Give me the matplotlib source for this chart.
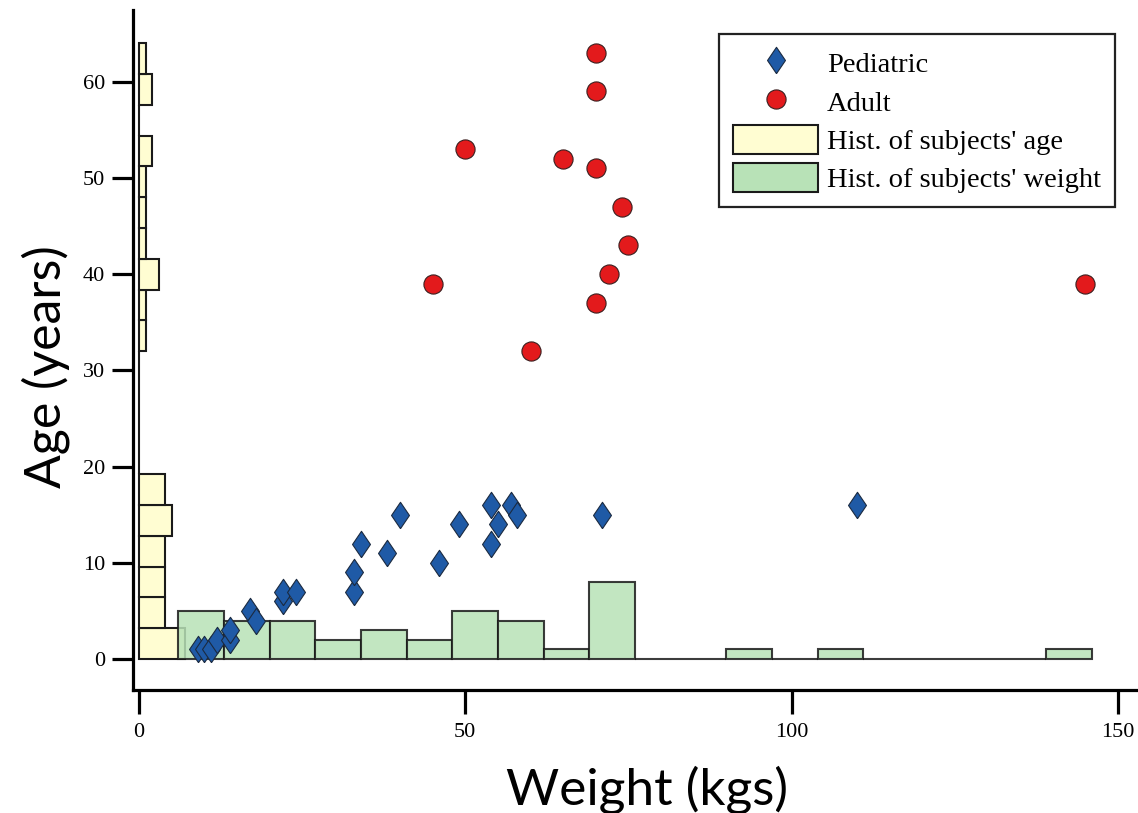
import numpy as np
import matplotlib
matplotlib.use("Agg")
import matplotlib.pyplot as plt
from matplotlib.lines import Line2D
from matplotlib.patches import Patch

# ---------------- data ----------------
ped_weight = [9, 10, 11, 12, 14, 14, 17, 18, 22, 22, 24, 33, 33, 34, 38, 40, 46, 49, 54, 54, 55, 57, 58, 71, 110]
ped_age = [1, 1, 1, 2, 2, 3, 5, 4, 6, 7, 7, 7, 9, 12, 11, 15, 10, 14, 12, 16, 14, 16, 15, 15, 16]

adult_weight = [70, 70, 50, 65, 70, 74, 75, 72, 45, 145, 70, 60]
adult_age = [63, 59, 53, 52, 51, 47, 43, 40, 39, 39, 37, 32]

# age histogram (bins of 3.2 years from 0 to 64)
age_bin_edges = [0.0, 3.2, 6.4, 9.6, 12.8, 16.0, 19.2, 22.4, 25.6, 28.8, 32.0,
                 35.2, 38.4, 41.6, 44.8, 48.0, 51.2, 54.4, 57.6, 60.8, 64.0]
age_counts = [7, 4, 4, 4, 5, 4, 0, 0, 0, 0, 1, 1, 3, 1, 1, 1, 2, 0, 2, 1]

# weight histogram (bins of 7 kg from 6 to 146)
weight_bin_edges = [6, 13, 20, 27, 34, 41, 48, 55, 62, 69, 76, 83, 90, 97, 104,
                    111, 118, 125, 132, 139, 146]
weight_counts = [5, 4, 4, 2, 3, 2, 5, 4, 1, 8, 0, 0, 1, 0, 1, 0, 0, 0, 0, 1]

x_ticks = [0, 50, 100, 150]
y_ticks = [0, 10, 20, 30, 40, 50, 60]

labels = ["Pediatric", "Adult", "Hist. of subjects' age", "Hist. of subjects' weight"]

# ---------------- style ----------------
W, H = 1138, 813
fig = plt.figure(figsize=(W / 100, H / 100), dpi=100)
left_px, right_px, top_px, bottom_px = 132.7, 1138, 10, 690
ax = fig.add_axes([left_px / W, 1 - bottom_px / H, (right_px - left_px) / W, (bottom_px - top_px) / H])

yellow = "#fffdd2"
green = "#b8e2b7"
blue = "#1f5aa6"
red = "#e31a1c"
edge = "#1a1a1a"

# age histogram (horizontal)
a_edges = np.array(age_bin_edges)
ax.barh(a_edges[:-1], age_counts, height=np.diff(a_edges), align="edge",
        left=0, color=yellow, edgecolor=edge, linewidth=1.5, zorder=2)

# weight histogram (vertical)
w_edges = np.array(weight_bin_edges)
ax.bar(w_edges[:-1], weight_counts, width=np.diff(w_edges), align="edge",
       bottom=0, facecolor=green, alpha=0.85, edgecolor=edge, linewidth=1.5, zorder=3)

diamond = [(0, -1), (0.68, 0), (0, 1), (-0.68, 0), (0, -1)]
ax.plot(ped_weight, ped_age, linestyle="none", marker=diamond, markersize=19,
        markerfacecolor=blue, markeredgecolor="#1b2a40", markeredgewidth=0.8, zorder=5)
ax.plot(adult_weight, adult_age, linestyle="none", marker="o", markersize=13.8,
        markerfacecolor=red, markeredgecolor="#3a2020", markeredgewidth=0.8, zorder=5)

# axes limits
x0, xs = 139.0, 6.525
y0, ys = 659.0, 9.62
ax.set_xlim((left_px - x0) / xs, (right_px - x0) / xs)
ax.set_ylim((y0 - bottom_px) / ys, (y0 - top_px) / ys)

for s in ["top", "right"]:
    ax.spines[s].set_visible(False)
for s in ["left", "bottom"]:
    ax.spines[s].set_linewidth(2.3)
    ax.spines[s].set_color("black")

ax.set_xticks(x_ticks)
ax.set_yticks(y_ticks)
ax.tick_params(axis="both", direction="out", width=2.3, color="black",
               labelsize=16, labelfontfamily="Liberation Serif")
ax.tick_params(axis="y", length=15, pad=4.8)
ax.tick_params(axis="x", length=17, pad=6.5)

ax.set_xlabel("Weight (kgs)", fontfamily="Lato", fontsize=37)
ax.set_ylabel("Age (years)", fontfamily="Lato", fontsize=36)
ax.xaxis.set_label_coords(0.512, -0.111)
ax.yaxis.set_label_coords(-0.062, 0.476)

handles = [
    Line2D([], [], linestyle="none", marker=diamond, markersize=19,
           markerfacecolor=blue, markeredgecolor="#1b2a40", markeredgewidth=0.8),
    Line2D([], [], linestyle="none", marker="o", markersize=13.8,
           markerfacecolor=red, markeredgecolor="#3a2020", markeredgewidth=0.8),
    Patch(facecolor=yellow, edgecolor=edge, linewidth=1.5),
    Patch(facecolor=green, edgecolor=edge, linewidth=1.5),
]
leg = ax.legend(handles, labels, loc="upper right",
                bbox_to_anchor=(1115 / W, 1 - 34 / H), bbox_transform=fig.transFigure,
                borderaxespad=0, prop={"family": "Liberation Serif", "size": 20.5},
                handlelength=3.0, handleheight=1.2, handletextpad=0.3,
                labelspacing=0.28, borderpad=0.5, fancybox=False, framealpha=1)
leg.get_frame().set_edgecolor("#222222")
leg.get_frame().set_linewidth(1.6)

fig.savefig("out.png", dpi=100)
